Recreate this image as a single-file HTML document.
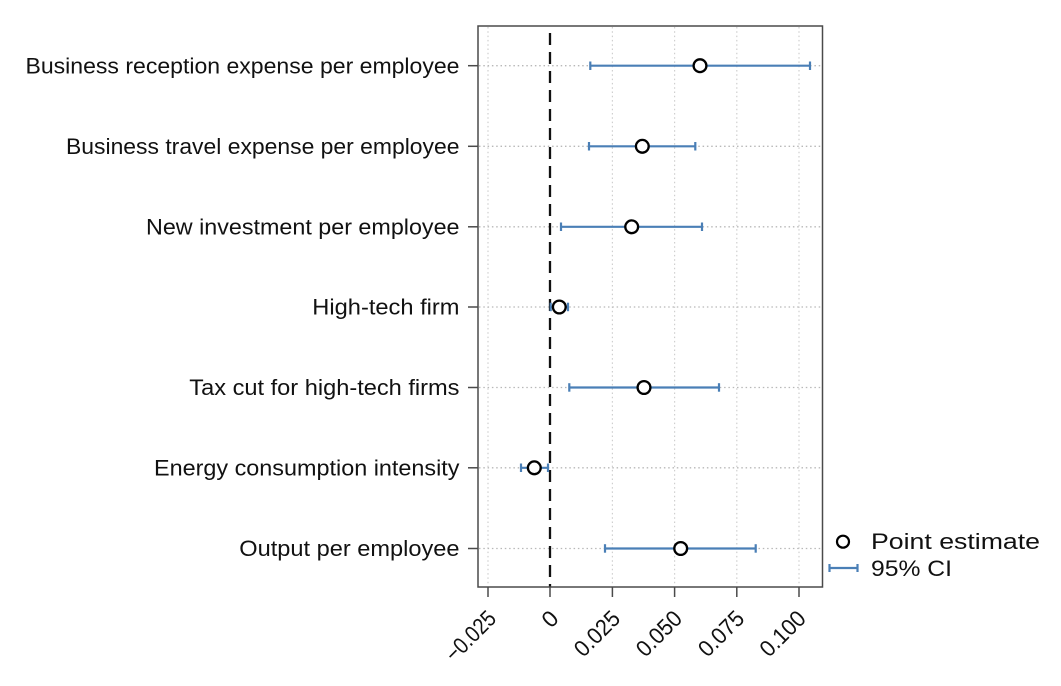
<!DOCTYPE html>
<html>
<head>
<meta charset="utf-8">
<style>
  html, body { margin: 0; padding: 0; background: #ffffff; }
  svg { display: block; }
  text { font-family: "Liberation Sans", "DejaVu Sans", sans-serif; fill: #111111; }
</style>
</head>
<body>
<svg width="1061" height="686" viewBox="0 0 1061 686" xmlns="http://www.w3.org/2000/svg">
  <rect x="0" y="0" width="1061" height="686" fill="#ffffff"/>

  <!-- vertical gridlines -->
  <g stroke="#cfcfcf" stroke-width="1.2" stroke-dasharray="1.5 2.8">
    <line x1="488" y1="27" x2="488" y2="586"/>
    <line x1="612.4" y1="27" x2="612.4" y2="586"/>
    <line x1="674.6" y1="27" x2="674.6" y2="586"/>
    <line x1="736.8" y1="27" x2="736.8" y2="586"/>
    <line x1="799" y1="27" x2="799" y2="586"/>
  </g>

  <!-- horizontal gridlines -->
  <g stroke="#b8b8b8" stroke-width="1.3" stroke-dasharray="1.5 2.8">
    <line x1="479" y1="65.7" x2="822" y2="65.7"/>
    <line x1="479" y1="146.3" x2="822" y2="146.3"/>
    <line x1="479" y1="226.8" x2="822" y2="226.8"/>
    <line x1="479" y1="307" x2="822" y2="307"/>
    <line x1="479" y1="387.5" x2="822" y2="387.5"/>
    <line x1="479" y1="467.8" x2="822" y2="467.8"/>
    <line x1="479" y1="548.5" x2="822" y2="548.5"/>
  </g>

  <!-- zero dashed line -->
  <line x1="550" y1="33" x2="550" y2="587" stroke="#111" stroke-width="2.3" stroke-dasharray="12 7"/>

  <!-- frame -->
  <rect x="478" y="26" width="344.5" height="561" fill="none" stroke="#4a4a4a" stroke-width="1.5"/>

  <!-- y ticks -->
  <g stroke="#4a4a4a" stroke-width="1.5">
    <line x1="468" y1="65.7" x2="478" y2="65.7"/>
    <line x1="468" y1="146.3" x2="478" y2="146.3"/>
    <line x1="468" y1="226.8" x2="478" y2="226.8"/>
    <line x1="468" y1="307" x2="478" y2="307"/>
    <line x1="468" y1="387.5" x2="478" y2="387.5"/>
    <line x1="468" y1="467.8" x2="478" y2="467.8"/>
    <line x1="468" y1="548.5" x2="478" y2="548.5"/>
  </g>

  <!-- x ticks -->
  <g stroke="#4a4a4a" stroke-width="1.5">
    <line x1="488" y1="587" x2="488" y2="597"/>
    <line x1="550" y1="587" x2="550" y2="597"/>
    <line x1="612.4" y1="587" x2="612.4" y2="597"/>
    <line x1="674.6" y1="587" x2="674.6" y2="597"/>
    <line x1="736.8" y1="587" x2="736.8" y2="597"/>
    <line x1="799" y1="587" x2="799" y2="597"/>
  </g>

  <!-- y labels -->
  <g font-size="22" text-anchor="end">
    <text x="459.5" y="73.3" textLength="434" lengthAdjust="spacingAndGlyphs">Business reception expense per employee</text>
    <text x="459.5" y="153.9" textLength="393.5" lengthAdjust="spacingAndGlyphs">Business travel expense per employee</text>
    <text x="459.5" y="234.4" textLength="313.5" lengthAdjust="spacingAndGlyphs">New investment per employee</text>
    <text x="459.5" y="314.6" textLength="147.2" lengthAdjust="spacingAndGlyphs">High-tech firm</text>
    <text x="459.5" y="395.1" textLength="270.2" lengthAdjust="spacingAndGlyphs">Tax cut for high-tech firms</text>
    <text x="459.5" y="475.4" textLength="305.5" lengthAdjust="spacingAndGlyphs">Energy consumption intensity</text>
    <text x="459.5" y="556.1" textLength="220.2" lengthAdjust="spacingAndGlyphs">Output per employee</text>
  </g>

  <!-- x labels (rotated) -->
  <g font-size="23" text-anchor="end">
    <text transform="translate(497.5,620) rotate(-45)" textLength="61" lengthAdjust="spacingAndGlyphs">−0.025</text>
    <text transform="translate(560,620) rotate(-45)">0</text>
    <text transform="translate(621.6,620) rotate(-45)" textLength="54" lengthAdjust="spacingAndGlyphs">0.025</text>
    <text transform="translate(683.5,620) rotate(-45)" textLength="54" lengthAdjust="spacingAndGlyphs">0.050</text>
    <text transform="translate(745.7,620) rotate(-45)" textLength="54" lengthAdjust="spacingAndGlyphs">0.075</text>
    <text transform="translate(807.2,620) rotate(-45)" textLength="54" lengthAdjust="spacingAndGlyphs">0.100</text>
  </g>

  <!-- error bars -->
  <g stroke="#4a7fb6" stroke-width="2.2" fill="none">
    <line x1="590.3" y1="65.7" x2="810" y2="65.7"/>
    <line x1="590.3" y1="61.5" x2="590.3" y2="70"/>
    <line x1="810" y1="61.5" x2="810" y2="70"/>

    <line x1="589" y1="146.3" x2="695.3" y2="146.3"/>
    <line x1="589" y1="142" x2="589" y2="150.5"/>
    <line x1="695.3" y1="142" x2="695.3" y2="150.5"/>

    <line x1="561" y1="226.8" x2="702" y2="226.8"/>
    <line x1="561" y1="222.5" x2="561" y2="231"/>
    <line x1="702" y1="222.5" x2="702" y2="231"/>

    <line x1="550.7" y1="307" x2="568" y2="307"/>
    <line x1="550.7" y1="302.7" x2="550.7" y2="311.2"/>
    <line x1="568" y1="302.7" x2="568" y2="311.2"/>

    <line x1="569.3" y1="387.5" x2="719" y2="387.5"/>
    <line x1="569.3" y1="383.2" x2="569.3" y2="391.7"/>
    <line x1="719" y1="383.2" x2="719" y2="391.7"/>

    <line x1="521" y1="467.8" x2="548" y2="467.8"/>
    <line x1="521" y1="463.5" x2="521" y2="472"/>
    <line x1="548" y1="463.5" x2="548" y2="472"/>

    <line x1="605" y1="548.5" x2="755.7" y2="548.5"/>
    <line x1="605" y1="544.2" x2="605" y2="552.7"/>
    <line x1="755.7" y1="544.2" x2="755.7" y2="552.7"/>
  </g>

  <!-- point estimates -->
  <g stroke="#000" stroke-width="2.3" fill="#ffffff">
    <circle cx="700" cy="65.7" r="6.4"/>
    <circle cx="642.3" cy="146.3" r="6.4"/>
    <circle cx="631.7" cy="226.8" r="6.4"/>
    <circle cx="559.3" cy="307" r="6.4"/>
    <circle cx="644" cy="387.5" r="6.4"/>
    <circle cx="534.3" cy="467.8" r="6.4"/>
    <circle cx="680.7" cy="548.5" r="6.4"/>
  </g>

  <!-- legend -->
  <circle cx="843" cy="541.7" r="6" stroke="#000" stroke-width="2.2" fill="#fff"/>
  <g stroke="#4a7fb6" stroke-width="2.2">
    <line x1="829.5" y1="568" x2="857.5" y2="568"/>
    <line x1="829.5" y1="564" x2="829.5" y2="572"/>
    <line x1="857.5" y1="564" x2="857.5" y2="572"/>
  </g>
  <text x="871" y="548.8" font-size="22" textLength="169" lengthAdjust="spacingAndGlyphs">Point estimate</text>
  <text x="871" y="575.8" font-size="22" textLength="81" lengthAdjust="spacingAndGlyphs">95% CI</text>
</svg>
</body>
</html>
